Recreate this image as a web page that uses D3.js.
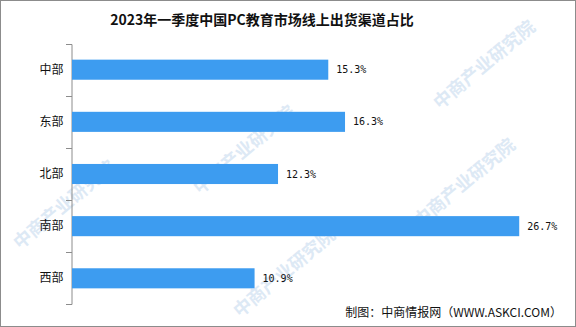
<!DOCTYPE html>
<html>
<head>
<meta charset="utf-8">
<script src="https://cdn.jsdelivr.net/npm/d3@7"></script>
<style>
  body { margin: 0; background: #fff; }
</style>
</head>
<body>
<script>
const regions = ['中部', '东部', '北部', '南部', '西部'];
const shares = [15.3, 16.3, 12.3, 26.7, 10.9];
const titleText = '2023年一季度中国PC教育市场线上出货渠道占比';
const sourceText = '制图：中商情报网（WWW.ASKCI.COM）';
const watermarkText = '中商产业研究院';

const svgWidth = 576, svgHeight = 327;

const svg = d3.select('body')
  .append('svg')
  .attr('width', svgWidth)
  .attr('height', svgHeight);

// faint watermark, a few copies kept inside the frame
const wmSpots = [[200, 195], [420, 228], [240, 318], [440, 110], [20, 250]];
svg.append('g')
  .selectAll('text')
  .data(wmSpots)
  .enter()
  .append('text')
  .attr('transform', d => `translate(${d[0]}, ${d[1]}) rotate(-40)`)
  .attr('font-family', 'Noto Sans CJK SC')
  .attr('font-size', 18)
  .attr('font-weight', 'bold')
  .attr('fill', '#dde9f5')
  .text(watermarkText);

svg.append('rect')
  .attr('x', 0.5)
  .attr('y', 0.5)
  .attr('width', svgWidth - 1)
  .attr('height', svgHeight - 1)
  .attr('fill', 'none')
  .attr('stroke', '#8c8c8c');

svg.append('text')
  .attr('x', 262)
  .attr('y', 25)
  .attr('text-anchor', 'middle')
  .attr('font-family', 'Noto Sans CJK SC')
  .attr('font-weight', 'bold')
  .attr('font-size', 14)
  .attr('fill', '#111')
  .text(titleText);

const x = d3.scaleLinear()
  .domain([0, 30])
  .range([72, 72 + 16.75 * 30]);

const y = d3.scaleBand()
  .domain(regions)
  .range([44, 304])
  .paddingInner(0.615)
  .paddingOuter(0.3);

const yAxis = svg.append('g')
  .attr('transform', 'translate(71.5, 0)')
  .call(d3.axisLeft(y).tickSize(0).tickPadding(8));

yAxis.select('.domain').attr('stroke', '#8c8c8c');
yAxis.selectAll('text')
  .attr('font-family', 'Noto Sans CJK SC')
  .attr('font-size', 12)
  .attr('fill', '#111');

// tick marks between bands
const bounds = d3.range(regions.length + 1).map(i => 44 + i * 52);
svg.append('g')
  .selectAll('line')
  .data(bounds)
  .enter()
  .append('line')
  .attr('x1', 66)
  .attr('x2', 72)
  .attr('y1', d => d + 0.5)
  .attr('y2', d => d + 0.5)
  .attr('stroke', '#8c8c8c');

svg.append('g')
  .selectAll('rect')
  .data(shares)
  .enter()
  .append('rect')
  .attr('x', x(0))
  .attr('y', (d, i) => y(regions[i]))
  .attr('width', d => x(d) - x(0))
  .attr('height', y.bandwidth())
  .attr('fill', '#3d9cf0');

svg.append('g')
  .selectAll('text')
  .data(shares)
  .enter()
  .append('text')
  .attr('x', d => x(d) + 8)
  .attr('y', (d, i) => y(regions[i]) + y.bandwidth() / 2)
  .attr('dy', '0.35em')
  .attr('font-family', 'DejaVu Sans Mono')
  .attr('font-size', 10)
  .attr('fill', '#111')
  .text(d => d.toFixed(1) + '%');

svg.append('text')
  .attr('x', 562)
  .attr('y', 317)
  .attr('text-anchor', 'end')
  .attr('font-family', 'Noto Sans CJK SC')
  .attr('font-size', 12)
  .attr('fill', '#111')
  .text(sourceText);
</script>
</body>
</html>
